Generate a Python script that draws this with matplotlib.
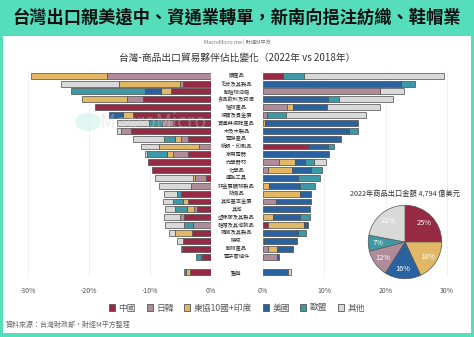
import matplotlib
matplotlib.use("Agg")
import matplotlib.pyplot as plt
import matplotlib.transforms as mtransforms
from matplotlib.patches import Rectangle, Circle, Patch
import numpy as np

plt.rcParams["font.family"] = ["Noto Sans CJK TC", "DejaVu Sans"]

# Product categories (top to bottom); the last one is the overall total
categories = ["礦產品", "毛皮及其製品", "動植物油脂", "食品飲料及菸酒", "植物產品",
              "珠寶及貴金屬", "資通與視聽產品", "木及木製品", "電機產品", "紙漿・印刷品",
              "家用電器", "光學器材", "化學品", "運輸工具", "非金屬礦物製品", "紡織品",
              "其他基本金屬", "其他", "塑橡膠及其製品", "鞋帽及其他飾品", "鋼鐵及其製品",
              "機械", "動物產品", "電子零組件", "整體"]

# Change in export share by partner, 2022 vs 2018 (percentage points)
china = [3.25, -4.65, -6.5, -11.2, -19.0, -12.8, -6.2, -13.2, -3.8, 7.3, -3.8, -10.3, -9.7,
         -0.8, 0, -5.0, -3.7, -2.3, -4.5, 0.9, -3.1, -4.6, -4.8, -1.5, -3.5]
japan_korea = [-17.1, -0.4, 19.0, -2.6, 3.9, 0.65, -1.9, -1.5, -1.1, -1.9, -2.5, 2.7, 0.8,
               -1.75, -3.2, 0, 2.1, -0.55, -0.65, -3.0, 0, 0, 0.8, 2.4, 0]
asean_india = [-12.4, -10.1, -1.7, -7.3, 1.0, -1.6, 0.4, 0, -1.0, -6.7, -0.9, 2.5, 4.0,
               -0.4, 1.0, 6.1, -0.9, -1.1, 1.6, 5.8, -2.85, 0.2, 1.6, -0.1, -0.6]
usa = [0, 22.5, -2.7, 10.6, 5.6, -2.3, 15.1, 14.0, 12.8, 3.25, 10.8, 1.6, 3.1,
       5.7, 5.0, 1.8, 5.7, 7.7, 4.4, 0.7, 5.7, 5.3, 2.5, 0.3, 4.1]
eu = [3.5, 2.2, -12.0, 1.8, 0, 3.1, -2.0, 1.5, -1.75, 1.0, -3.3, 1.6, 1.8,
      3.6, 2.5, -0.65, -1.7, -2.0, 1.7, -1.4, 1.3, 0, 0, -0.9, -0.4]
others = [22.8, -9.5, 4.0, 8.8, 8.6, 13.0, -5.3, -0.7, -5.2, -2.9, -0.4, 1.9, 0,
          -6.3, -5.3, -2.1, -1.5, -1.6, -2.5, -3.1, -0.9, -0.9, -0.1, 0, 0.5]

series_names = ["中國", "日韓", "東協10國+印度", "美國", "歐盟", "其他"]
colors = ["#962A45", "#B08C9B", "#E2B866", "#2A62A0", "#3E99A6", "#D9D9D9"]

# 2022 export share by partner (pie)
pie_shares = [25, 18, 16, 12, 7, 22]
pie_colors = ["#962A45", "#E2B866", "#2A62A0", "#B08C9B", "#3E99A6", "#D9D9D9"]

W, H = 474, 337
MINT = "#55DDBC"

fig = plt.figure(figsize=(W / 100, H / 100), dpi=100)
fig.patch.set_facecolor(MINT)
fig.patches.append(Rectangle((3 / W, 1 - 333 / H), 468 / W, 297 / H,
                             transform=fig.transFigure, facecolor="white",
                             edgecolor="none", zorder=-1))

fig.text(0.5, 1 - 18 / H, "台灣出口親美遠中、資通業轉單，新南向挹注紡織、鞋帽業",
         ha="center", va="center", fontsize=12.4, fontweight="bold", color="#111111")
fig.text(0.5, 1 - 42 / H, "MacroMicro.me | 財經M平方", ha="center", va="center",
         fontsize=3.8, color="#777777")
fig.text(0.5, 1 - 58 / H, "台灣-商品出口貿易夥伴佔比變化（2022年 vs 2018年）",
         ha="center", va="center", fontsize=7, color="#333333")

# faint watermark
fig.patches.append(Circle((88 / W, 1 - 122 / H), 13 / W, transform=fig.transFigure,
                          facecolor="#C8F0E6", edgecolor="none", alpha=0.5, zorder=5))
fig.text(100 / W, 1 - 122 / H, "MacroMicro", ha="left", va="center", fontsize=14,
         color="#CCCCCC", alpha=0.35, zorder=5)

ax_l = fig.add_axes([22 / W, 1 - 277 / H, 189 / W, 206 / H])
ax_r = fig.add_axes([262.7 / W, 1 - 277 / H, 190.6 / W, 206 / H])

ypos = np.array(list(range(24)) + [25])
neg_base = np.zeros(len(categories))
pos_base = np.zeros(len(categories))
all_series = [china, japan_korea, asean_india, usa, eu, others]

for vals, col in zip(all_series, colors):
    v = np.array(vals, dtype=float)
    neg = v < 0
    pos = v > 0
    ax_l.barh(ypos[neg], v[neg], left=neg_base[neg], height=0.75, color=col,
              edgecolor="#4a4a4a", linewidth=0.5, zorder=3)
    ax_r.barh(ypos[pos], v[pos], left=pos_base[pos], height=0.75, color=col,
              edgecolor="#4a4a4a", linewidth=0.5, zorder=3)
    neg_base[neg] += v[neg]
    pos_base[pos] += v[pos]

ax_l.set_xlim(-31, 0)
ax_r.set_xlim(0, 31)
ax_l.set_xticks([-30, -20, -10, 0])
ax_l.set_xticklabels(["-30%", "-20%", "-10%", "0%"])
ax_r.set_xticks([0, 10, 20, 30])
ax_r.set_xticklabels(["0%", "10%", "20%", "30%"])

for ax in (ax_l, ax_r):
    ax.set_ylim(25.6, -0.6)
    ax.set_yticks([])
    ax.set_facecolor("none")
    for s in ax.spines.values():
        s.set_visible(False)
    ax.tick_params(axis="x", length=0, pad=7, labelsize=5, labelcolor="#555555")
    ax.grid(axis="x", color="#EEEEEE", linewidth=0.6, zorder=0)

# category names between the two panels
trans = mtransforms.blended_transform_factory(fig.transFigure, ax_l.transData)
for y, name in zip(ypos, categories):
    ax_l.text(236.5 / W, y, name, transform=trans, ha="center", va="center",
              fontsize=3.8, color="#333333", clip_on=False)

# pie of 2022 shares
fig.text(405 / W, 1 - 194 / H, "2022年商品出口金額 4,794 億美元", ha="center", va="center",
         fontsize=5.2, color="#333333")
ax_p = fig.add_axes([367.5 / W, 1 - 279.5 / H, 75 / W, 75 / H])
ax_p.pie(pie_shares, colors=pie_colors, startangle=90, counterclock=False,
         autopct=lambda p: f"{p:.0f}%", pctdistance=0.74,
         wedgeprops=dict(edgecolor="#555555", linewidth=0.5),
         textprops=dict(color="white", fontsize=5.3))
ax_p.set_xlim(-1.02, 1.02)
ax_p.set_ylim(-1.02, 1.02)
ax_p.set_aspect("equal")

handles = [Patch(facecolor=c, edgecolor="#555555", linewidth=0.6) for c in colors]
fig.legend(handles, series_names, loc="center", bbox_to_anchor=(0.5, 1 - 308 / H),
           ncol=6, frameon=False, fontsize=6.3, handlelength=0.7, handleheight=0.7,
           handletextpad=0.4, columnspacing=1.2, labelcolor="#555555")

fig.text(6 / W, 1 - 325 / H, "資料來源：台灣財政部，財經M平方整理", ha="left", va="center",
         fontsize=5, color="#666666", style="italic")

fig.savefig("out.png", dpi=100, facecolor=fig.get_facecolor())
